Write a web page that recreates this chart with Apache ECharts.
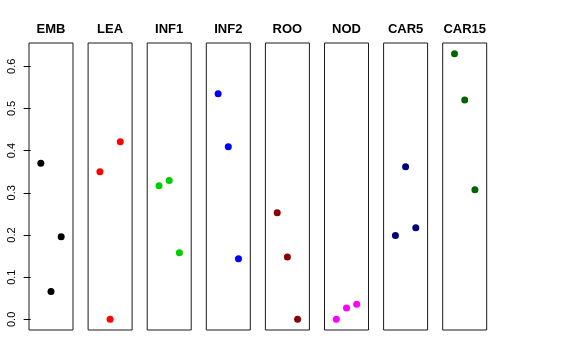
<!DOCTYPE html>
<html>
<head>
<meta charset="utf-8">
<script src="https://cdn.jsdelivr.net/npm/echarts@6/dist/echarts.min.js"></script>
<style>
html,body{margin:0;padding:0;background:#fff;}
#chart{width:576px;height:360px;}
</style>
</head>
<body>
<div id="chart"></div>
<script>
const categories = ['EMB', 'LEA', 'INF1', 'INF2', 'ROO', 'NOD', 'CAR5', 'CAR15'];
const colors = ['#000000', '#FF0000', '#00CD00', '#0000FF', '#8B0000', '#FF00FF', '#000080', '#006400'];
const xPositions = [1, 2, 3];
const EMB = [0.370, 0.066, 0.196];
const LEA = [0.350, 0.000, 0.421];
const INF1 = [0.317, 0.329, 0.158];
const INF2 = [0.535, 0.409, 0.144];
const ROO = [0.253, 0.148, 0.000];
const NOD = [0.000, 0.027, 0.036];
const CAR5 = [0.199, 0.362, 0.217];
const CAR15 = [0.630, 0.520, 0.307];
const yTicks = [0, 0.1, 0.2, 0.3, 0.4, 0.5, 0.6];
const seriesValues = [EMB, LEA, INF1, INF2, ROO, NOD, CAR5, CAR15];

const chart = echarts.init(document.getElementById('chart'), null, {renderer: 'canvas'});

const panelLeft0 = 29, panelStep = 59.1, panelWidth = 44, panelTop = 43, panelHeight = 287;
const yMin = -0.0252, yMax = 0.6552;

const grids = [], xAxes = [], yAxes = [], series = [], graphics = [];
categories.forEach((cat, i) => {
  const left = panelLeft0 + i * panelStep;
  grids.push({
    left: left, top: panelTop, width: panelWidth, height: panelHeight,
    show: true, borderColor: '#1a1a1a', borderWidth: 1, backgroundColor: 'transparent'
  });
  xAxes.push({
    gridIndex: i, type: 'value', min: -0.16, max: 4.16,
    show: false
  });
  yAxes.push({
    gridIndex: i, type: 'value', min: yMin, max: yMax,
    show: i === 0,
    axisLine: {show: false},
    splitLine: {show: false},
    axisTick: {show: i === 0, length: 7, inside: false, customValues: yTicks, lineStyle: {color: '#000', width: 1}},
    axisLabel: {
      show: i === 0, customValues: yTicks, rotate: 90, margin: 12,
      fontFamily: 'Liberation Sans', fontSize: 11, color: '#000',
      formatter: v => Number(v).toFixed(1)
    }
  });
  series.push({
    type: 'scatter', xAxisIndex: i, yAxisIndex: i,
    symbol: 'circle', symbolSize: 7,
    itemStyle: {color: colors[i], opacity: 1},
    silent: true,
    data: xPositions.map((x, j) => [x, seriesValues[i][j]])
  });
  graphics.push({
    type: 'text', x: left + panelWidth / 2, y: 29,
    style: {
      text: cat, textAlign: 'center', textVerticalAlign: 'middle',
      font: 'bold 13px "Liberation Sans", Arial, sans-serif', fill: '#000'
    }
  });
});

chart.setOption({
  animation: false,
  backgroundColor: '#fff',
  grid: grids,
  xAxis: xAxes,
  yAxis: yAxes,
  series: series,
  graphic: graphics
});
</script>
</body>
</html>
